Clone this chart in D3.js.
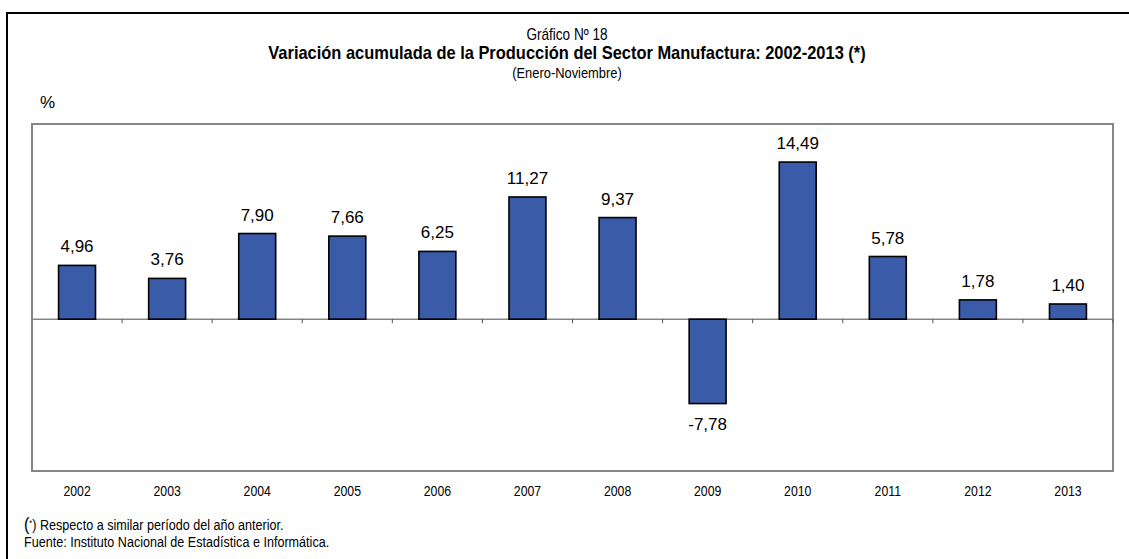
<!DOCTYPE html>
<html>
<head>
<meta charset="utf-8">
<script src="https://cdn.jsdelivr.net/npm/d3@7"></script>
<style>
  body { margin: 0; background: #fff; }
  svg { display: block; }
</style>
</head>
<body>
<script>
const years = ['2002','2003','2004','2005','2006','2007','2008','2009','2010','2011','2012','2013'];
const values = [4.96, 3.76, 7.90, 7.66, 6.25, 11.27, 9.37, -7.78, 14.49, 5.78, 1.78, 1.40];
const yDomain = [-14, 18];

const W = 1129, H = 559;
const font = "'Liberation Sans', Arial, sans-serif";

const svg = d3.select('body').append('svg')
    .attr('width', W)
    .attr('height', H);

// texto estrecho: Liberation Sans comprimida horizontalmente (imita Arial Narrow)
function narrowText(x, y, size, str, anchor = 'start', weight = 'normal', squeeze = 0.82) {
    const g = svg.append('g')
        .attr('transform', `translate(${x},${y}) scale(${squeeze},1)`);
    return g.append('text')
        .attr('text-anchor', anchor)
        .style('font-family', font)
        .style('font-size', size + 'px')
        .style('font-weight', weight)
        .attr('fill', '#000')
        .text(str);
}

// marco exterior
svg.append('rect')
    .attr('x', 7).attr('y', 13)
    .attr('width', W + 20).attr('height', H + 20)
    .attr('fill', 'none')
    .attr('stroke', '#000')
    .attr('stroke-width', 2);

const plot = { left: 32, right: 1113, top: 124, bottom: 471 };

const x = d3.scaleBand()
    .domain(years)
    .range([plot.left, plot.right])
    .paddingInner(0.59)
    .paddingOuter(0.295);

const xCat = d3.scaleBand()
    .domain(years)
    .range([plot.left, plot.right]);

const y = d3.scaleLinear()
    .domain(yDomain)
    .range([plot.bottom, plot.top]);

// area del grafico
svg.append('rect')
    .attr('x', plot.left).attr('y', plot.top)
    .attr('width', plot.right - plot.left)
    .attr('height', plot.bottom - plot.top)
    .attr('fill', '#fff')
    .attr('stroke', '#868686')
    .attr('stroke-width', 2);

// eje cero con marcas
const zeroAxis = svg.append('g')
    .attr('transform', `translate(0,${y(0)})`);

zeroAxis.append('line')
    .attr('x1', plot.left).attr('x2', plot.right)
    .attr('stroke', '#868686')
    .attr('stroke-width', 1.5);

zeroAxis.selectAll('.tick')
    .data(years)
    .join('line')
    .attr('class', 'tick')
    .attr('x1', d => xCat(d) + xCat.bandwidth())
    .attr('x2', d => xCat(d) + xCat.bandwidth())
    .attr('y1', 0).attr('y2', 4)
    .attr('stroke', '#555')
    .attr('stroke-width', 1);

// barras
svg.append('g')
    .selectAll('rect')
    .data(values)
    .join('rect')
    .attr('x', (d, i) => x(years[i]))
    .attr('y', d => y(Math.max(0, d)))
    .attr('width', x.bandwidth())
    .attr('height', d => Math.abs(y(d) - y(0)))
    .attr('fill', '#3A5BA8')
    .attr('stroke', '#000')
    .attr('stroke-width', 1.6);

// etiquetas de valor
svg.append('g')
    .selectAll('text')
    .data(values)
    .join('text')
    .attr('x', (d, i) => x(years[i]) + x.bandwidth() / 2)
    .attr('y', d => d >= 0 ? y(d) - 13 : y(d) + 26)
    .attr('text-anchor', 'middle')
    .style('font-family', font)
    .style('font-size', '17px')
    .attr('fill', '#000')
    .text(d => d.toFixed(2).replace('.', ','));

// etiquetas de categoria
years.forEach(d => {
    narrowText(xCat(d) + xCat.bandwidth() / 2, 496, 15, d, 'middle');
});

// titulos
const cx = 567;
narrowText(cx, 39.5, 16, 'Gráfico Nº 18', 'middle', 'normal', 0.85);
narrowText(cx, 59, 17.5, 'Variación acumulada de la Producción del Sector Manufactura: 2002-2013 (*)', 'middle', 'bold', 0.94);
narrowText(cx, 77.5, 15, '(Enero-Noviembre)', 'middle', 'normal', 0.86);

svg.append('text')
    .attr('x', 40).attr('y', 108)
    .style('font-family', font)
    .style('font-size', '17px')
    .text('%');

// notas
const note = narrowText(24, 530, 15, '', 'start', 'normal', 0.84);
note.append('tspan').style('font-size', '19px').text('(');
note.append('tspan').attr('dy', -4).style('font-size', '9px').text('*');
note.append('tspan').attr('dy', 4).text(') Respecto a similar período del año anterior.');

narrowText(24, 547, 15, 'Fuente: Instituto Nacional de Estadística e Informática.', 'start', 'normal', 0.84);
</script>
</body>
</html>
